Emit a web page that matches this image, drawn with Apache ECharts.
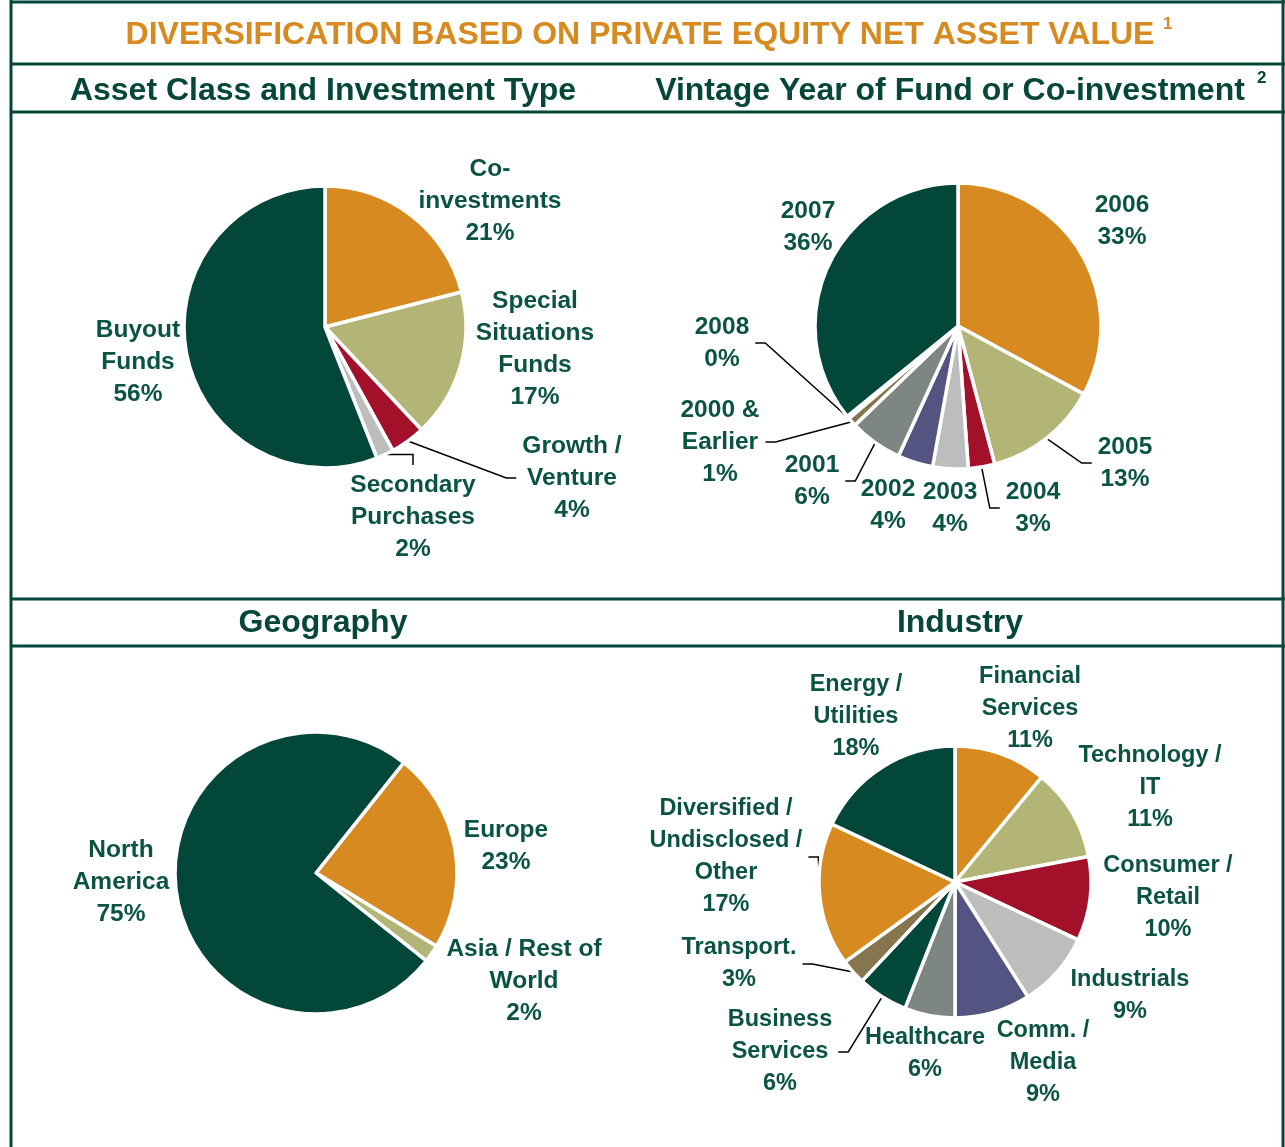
<!DOCTYPE html>
<html>
<head>
<meta charset="utf-8">
<script src="https://cdn.jsdelivr.net/npm/echarts@6/dist/echarts.min.js"></script>
<style>
  html, body { margin: 0; padding: 0; background: #fff; }
  #chart { width: 1285px; height: 1147px; }
</style>
</head>
<body>
<div id="chart"></div>
<script>
// data
const assetNames = ['Co-\ninvestments', 'Special\nSituations\nFunds', 'Growth /\nVenture', 'Secondary\nPurchases', 'Buyout\nFunds'];
const assetValues = [21, 17, 4, 2, 56];

const vintageNames = ['2006', '2005', '2004', '2003', '2002', '2001', '2000 &\nEarlier', '2008', '2007'];
const vintageValues = [33, 13, 3, 4, 4, 6, 1, 0.3, 36];

const geoNames = ['Europe', 'Asia / Rest of\nWorld', 'North\nAmerica'];
const geoValues = [23, 2, 75];

const industryNames = ['Financial\nServices', 'Technology /\nIT', 'Consumer /\nRetail', 'Industrials', 'Comm. /\nMedia',
  'Healthcare', 'Business\nServices', 'Transport.', 'Diversified /\nUndisclosed /\nOther', 'Energy /\nUtilities'];
const industryValues = [11, 11, 10, 9, 9, 6, 6, 3, 17, 18];

// colours
const GREEN = '#03463a', ORANGE = '#d68a1f', KHAKI = '#b3b577', RED = '#a31029',
  LGRAY = '#bdbdbd', PURPLE = '#545482', GRAY = '#7e8683', BROWN = '#857650';
const TEXT = '#0b5443';

const assetColors = [ORANGE, KHAKI, RED, LGRAY, GREEN];
const vintageColors = [ORANGE, KHAKI, RED, LGRAY, PURPLE, GRAY, BROWN, BROWN, GREEN];
const geoColors = [ORANGE, KHAKI, GREEN];
const industryColors = [ORANGE, KHAKI, RED, LGRAY, PURPLE, GRAY, GREEN, BROWN, ORANGE, GREEN];

// label centres and leader styles per series
const labelPos = [
  [[490, 201], [535, 349], [572, 478], [413, 517], [138, 362]],
  [[1122, 221], [1125, 463], [1033, 508], [950, 508], [888, 505], [812, 481], [720, 442], [722, 343], [808, 227]],
  [[506, 846], [524, 981], [121, 882]],
  [[1030, 709], [1150, 788], [1168, 898], [1130, 996], [1043, 1063], [925, 1054], [780, 1052], [739, 964], [726, 857], [856, 717]]
];
const leaders = [
  [0, 0, 'side', 'top', 0],
  [0, 'side', 'side', 0, 0, 'side', 'side', 'side', 0],
  [0, 0, 0],
  [0, 0, 0, 0, 0, 0, 'side', 'side', 'side', 0]
];

const chart = echarts.init(document.getElementById('chart'));
const FONT = '"Liberation Sans", Arial, sans-serif';

function makePie(names, values, colors, center, radius, startAngle, idx, fontSize) {
  return {
    type: 'pie',
    center: center,
    radius: radius,
    startAngle: startAngle,
    clockwise: true,
    avoidLabelOverlap: false,
    animation: false,
    itemStyle: { borderColor: '#fff', borderWidth: 3.5 },
    label: {
      show: true,
      position: 'outside',
      color: TEXT,
      fontFamily: FONT,
      fontWeight: 'bold',
      fontSize: fontSize,
      lineHeight: 32,
      align: 'center',
      formatter: p => p.name + '\n' + Math.round(p.value) + '%'
    },
    labelLine: { show: false, lineStyle: { color: '#000', width: 1.5 } },
    emphasis: { disabled: true },
    data: names.map((n, i) => ({
      name: n,
      value: values[i],
      itemStyle: { color: colors[i] },
      labelLine: { show: !!leaders[idx][i] }
    }))
  };
}

function labelLayout(params) {
  const s = params.seriesIndex, i = params.dataIndex;
  const [x, y] = labelPos[s][i];
  const res = { x: x, y: y, align: 'center', verticalAlign: 'middle' };
  const kind = leaders[s][i];
  const pts = params.labelLinePoints;
  if (kind && pts) {
    const p0 = pts[0];
    const w = params.labelRect.width, h = params.labelRect.height;
    let end, knee;
    if (kind === 'top') {
      end = [x, y - h / 2 - 4];
      knee = [x, p0[1]];
    } else if (x > p0[0]) {
      end = [x - w / 2 - 6, y];
      knee = [end[0] - 10, y];
    } else {
      end = [x + w / 2 + 6, y];
      knee = [end[0] + 10, y];
    }
    res.labelLinePoints = [p0, knee, end];
  }
  return res;
}

const lineStyle = { stroke: GREEN, lineWidth: 3 };
const hLines = [2, 64, 112, 599, 646];
const HEAD = '#07473a';

const option = {
  animation: false,
  graphic: [
    { type: 'line', shape: { x1: 11, y1: 0, x2: 11, y2: 1147 }, style: lineStyle },
    { type: 'line', shape: { x1: 1283, y1: 0, x2: 1283, y2: 1147 }, style: lineStyle },
    ...hLines.map(y => ({ type: 'line', shape: { x1: 10, y1: y, x2: 1285, y2: y }, style: lineStyle })),
    { type: 'text', x: 640, y: 35, style: { text: 'DIVERSIFICATION BASED ON PRIVATE EQUITY NET ASSET VALUE', align: 'center', verticalAlign: 'middle', fill: '#d68a1f', font: 'bold 32px ' + FONT } },
    { type: 'text', x: 1163, y: 24, style: { text: '1', align: 'left', verticalAlign: 'middle', fill: '#d68a1f', font: 'bold 17px ' + FONT } },
    { type: 'text', x: 323, y: 91, style: { text: 'Asset Class and Investment Type', align: 'center', verticalAlign: 'middle', fill: HEAD, font: 'bold 32px ' + FONT } },
    { type: 'text', x: 950, y: 91, style: { text: 'Vintage Year of Fund or Co-investment', align: 'center', verticalAlign: 'middle', fill: HEAD, font: 'bold 32px ' + FONT } },
    { type: 'text', x: 1257, y: 78, style: { text: '2', align: 'left', verticalAlign: 'middle', fill: HEAD, font: 'bold 17px ' + FONT } },
    { type: 'text', x: 323, y: 623, style: { text: 'Geography', align: 'center', verticalAlign: 'middle', fill: HEAD, font: 'bold 32px ' + FONT } },
    { type: 'text', x: 960, y: 623, style: { text: 'Industry', align: 'center', verticalAlign: 'middle', fill: HEAD, font: 'bold 32px ' + FONT } }
  ],
  series: [
    makePie(assetNames, assetValues, assetColors, [325, 327], 141, 90, 0, 24.5),
    makePie(vintageNames, vintageValues, vintageColors, [958, 326], 143, 90, 1, 24.5),
    makePie(geoNames, geoValues, geoColors, [316, 873], 141, 51.5, 2, 24.5),
    makePie(industryNames, industryValues, industryColors, [955, 882], 136, 90, 3, 23.5)
  ]
};
option.series.forEach(s => { s.labelLayout = labelLayout; });

chart.setOption(option);
</script>
</body>
</html>
